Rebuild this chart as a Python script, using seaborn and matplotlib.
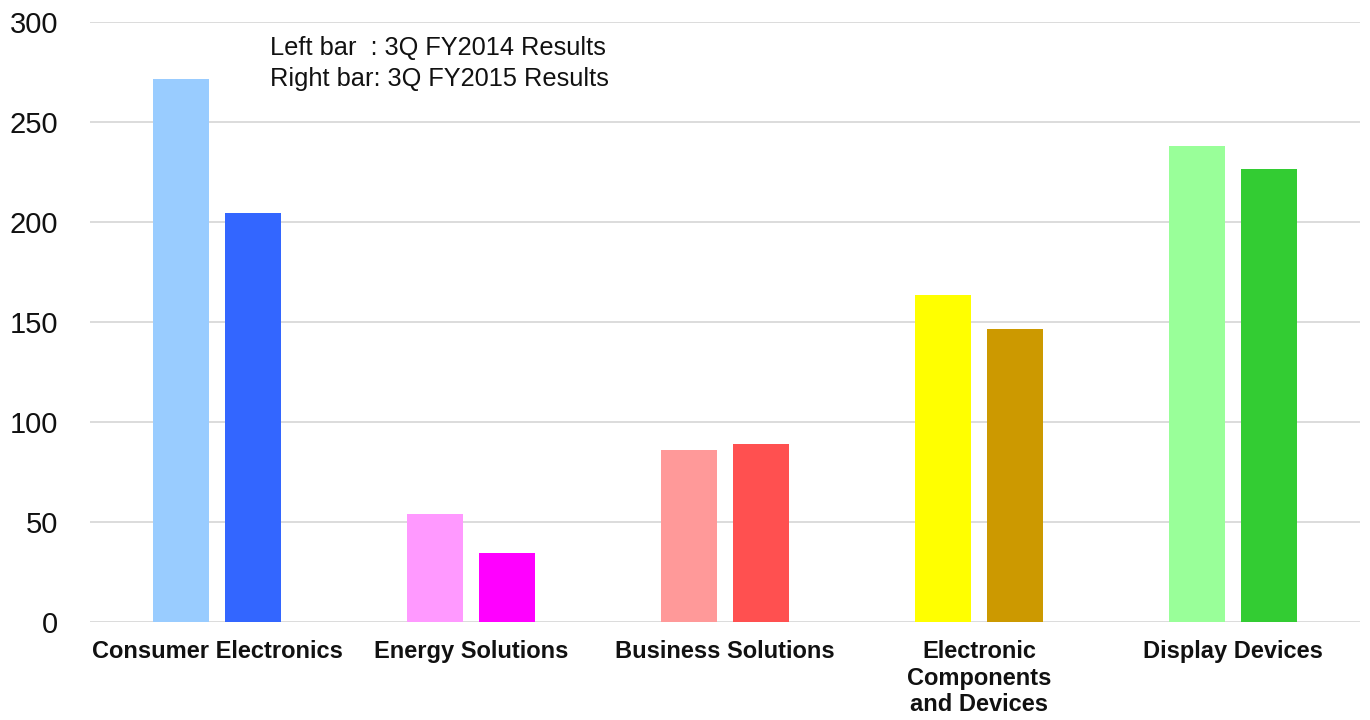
import matplotlib
matplotlib.use("Agg")
import matplotlib.pyplot as plt
import seaborn as sns
import pandas as pd

categories = ["Consumer Electronics", "Energy Solutions", "Business Solutions",
              "Electronic\nComponents\nand Devices", "Display Devices"]
fy2014 = [271.5, 54, 86, 163.5, 238]
fy2015 = [204.5, 34.5, 89, 146.5, 226.5]
periods = ["3Q FY2014 Results", "3Q FY2015 Results"]
colors_2014 = ["#99CCFF", "#FF99FF", "#FF9999", "#FFFF00", "#99FF99"]
colors_2015 = ["#3366FF", "#FF00FF", "#FF5050", "#CC9900", "#33CC33"]
y_ticks = [0, 50, 100, 150, 200, 250, 300]

df = pd.DataFrame({
    "category": categories * 2,
    "value": fy2014 + fy2015,
    "period": [periods[0]] * len(categories) + [periods[1]] * len(categories),
})

sns.set_theme(style="white")
plt.rcParams['font.family'] = ['Liberation Sans', 'DejaVu Sans']

fig = plt.figure(figsize=(13.7, 7.2), dpi=100)
ax = fig.add_axes([90 / 1370, 1 - 622 / 720, 1270 / 1370, 600 / 720])

sns.barplot(data=df, x="category", y="value", hue="period", order=categories,
            hue_order=periods, width=0.567, gap=0.21, ax=ax, legend=False,
            saturation=1, edgecolor="none", linewidth=0, zorder=3)

n = len(categories)
for i, p in enumerate(ax.patches[:2 * n]):
    if i < n:
        p.set_facecolor(colors_2014[i])
    else:
        p.set_facecolor(colors_2015[i - n])

ax.set_ylim(0, 300)
ax.set_xlim(-0.5, len(categories) - 0.5)
ax.set_yticks(y_ticks)
ax.set_yticklabels([str(t) for t in y_ticks], fontsize=21, color="#111111")
ax.yaxis.grid(True, color="#D9D9D9", linewidth=1.3, zorder=0)
ax.set_axisbelow(True)
ax.tick_params(axis="y", length=0, pad=23)
ax.tick_params(axis="x", length=0, pad=13)
for lbl in ax.get_xticklabels():
    lbl.set_fontsize(17)
    lbl.set_fontweight("bold")
    lbl.set_color("#111111")
    lbl.set_linespacing(1.2)
ax.set_xlabel("")
ax.set_ylabel("")
for s in ax.spines.values():
    s.set_visible(False)

ax.text((270 - 90) / 1270, (622 - 36) / 600,
        "Left bar  : 3Q FY2014 Results\nRight bar: 3Q FY2015 Results",
        transform=ax.transAxes, ha="left", va="top", fontsize=18.3,
        color="#111111", linespacing=1.35)

fig.savefig("out.png", dpi=100)
